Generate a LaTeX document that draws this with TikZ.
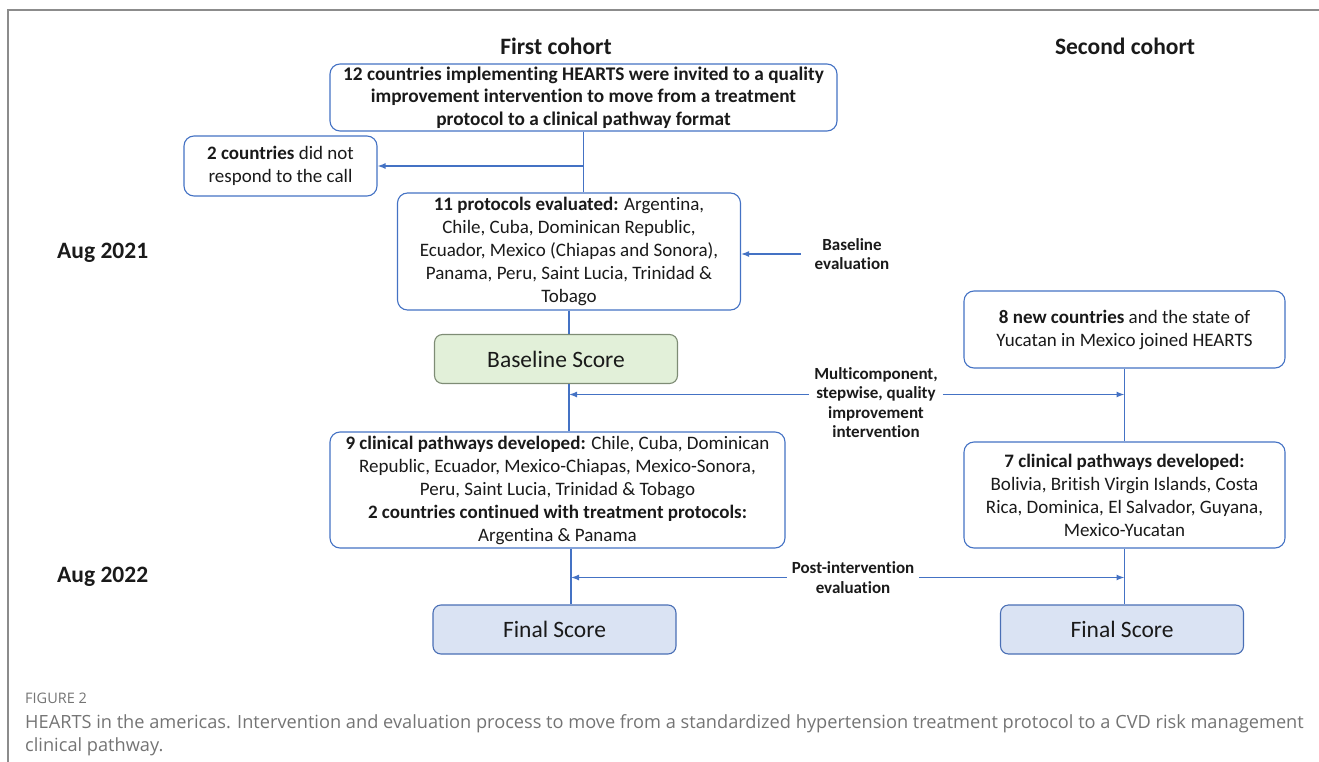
\documentclass[tikz,border=0pt]{standalone}
\usepackage{fontspec}
\setmainfont{Carlito}[Ligatures=NoCommon]
\newfontfamily\captionfont{Open Sans}
\usetikzlibrary{positioning, arrows.meta}
\definecolor{hbblue}{HTML}{4472C4}
\definecolor{hbframe}{HTML}{8C8C8C}
\definecolor{basefill}{HTML}{E2F0D9}
\definecolor{basedraw}{HTML}{7E8C75}
\definecolor{finalfill}{HTML}{DAE3F3}
\definecolor{finaldraw}{HTML}{4A6FB5}
\definecolor{captext}{HTML}{747474}
\definecolor{hbtext}{HTML}{1A1A1A}
\tikzset{
  hbbox/.style   = {draw=hbblue, line width=1.1pt, rounded corners=10pt,
                    align=center, inner sep=2pt, fill=white, text=hbtext,
                    font=\fontsize{19}{23}\selectfont},
  hbscore/.style = {hbbox, font=\fontsize{23.5}{28}\selectfont,
                    minimum width=243pt, minimum height=49pt, rounded corners=8pt},
  hbline/.style  = {draw=hbblue, line width=1.4pt},
  hbarrow/.style = {hbline, -{Latex[length=8pt,width=6pt]}},
  hblbl/.style   = {font=\bfseries\fontsize{17}{19.5}\selectfont, align=center,
                    inner xsep=5pt, inner ysep=1pt, text=hbtext},
  hbhead/.style  = {font=\bfseries\fontsize{23.5}{28}\selectfont, text=hbtext,
                    inner sep=0pt}
}

\begin{document}
\begin{tikzpicture}[x=1pt, y=-1pt]
  \useasboundingbox (0,0) rectangle (1319,762);
  \draw[hbframe, line width=1.2pt] (8,762) -- (8,10) -- (1319,10);

  \node[hbhead] (headone) at (556,46)  {First cohort};
  \node[hbhead] (headtwo) at (1125,46) {Second cohort};
  \node[hbhead, anchor=west] (augone) at (57,253) {Aug 2021};
  \node[hbhead, anchor=west] (augtwo) at (57,577) {Aug 2022};

  \node[hbbox, minimum width=507pt, minimum height=67pt,
        font=\bfseries\fontsize{19.3}{22.5}\selectfont] (invite) at (583.5,97.5)
        {12 countries implementing HEARTS were invited to a quality\\
         improvement intervention to move from a treatment\\
         protocol to a clinical pathway format};
  \node[hbbox, minimum width=193pt, minimum height=60pt] (noresp) at (280.5,166)
        {\textbf{2 countries} did not\\respond to the call};
  \node[hbbox, minimum width=343pt, minimum height=117pt] (evalbox) at (569,251.5)
        {\textbf{11 protocols evaluated:} Argentina,\\
         Chile, Cuba, Dominican Republic,\\
         Ecuador, Mexico (Chiapas and Sonora),\\
         Panama, Peru, Saint Lucia, Trinidad \&\\
         Tobago};
  \node[hbscore, draw=basedraw, fill=basefill] (basebox) at (556,359) {Baseline Score};
  \node[hbbox, minimum width=455pt, minimum height=116pt] (devone) at (557.5,490)
        {\textbf{9 clinical pathways developed:} Chile, Cuba, Dominican\\
         Republic, Ecuador, Mexico-Chiapas, Mexico-Sonora,\\
         Peru, Saint Lucia, Trinidad \& Tobago\\
         \textbf{2 countries continued with treatment protocols:}\\
         Argentina \& Panama};
  \node[hbscore, draw=finaldraw, fill=finalfill] (finone) at (554.5,629.5) {Final Score};

  \node[hbbox, minimum width=321pt, minimum height=77pt] (newbox) at (1124.5,329.5)
        {\textbf{8 new countries} and the state of\\Yucatan in Mexico joined HEARTS};
  \node[hbbox, minimum width=321pt, minimum height=106pt] (devtwo) at (1124.5,495)
        {\textbf{7 clinical pathways developed:}\\
         Bolivia, British Virgin Islands, Costa\\
         Rica, Dominica, El Salvador, Guyana,\\
         Mexico-Yucatan};
  \node[hbscore, draw=finaldraw, fill=finalfill] (fintwo) at (1122,629.5) {Final Score};

  \node[hblbl] (baseeval) at (852,254) {Baseline\\evaluation};
  \node[hblbl] (multi) at (876,402.5) {Multicomponent,\\stepwise, quality\\improvement\\intervention};
  \node[hblbl] (post) at (853,577.5) {Post-intervention\\evaluation};

  \coordinate (spine) at ([xshift=13.5pt]devone.south);

  \draw[hbline]  (invite.south) -- (invite.south |- evalbox.north);
  \draw[hbarrow] (invite.south |- noresp.east) -- (noresp.east);
  \draw[hbarrow] ([xshift=-9pt]baseeval.west) -- (evalbox.east |- baseeval.west);
  \draw[hbline]  (evalbox.south) -- (evalbox.south |- basebox.north);
  \draw[hbline]  (evalbox.south |- basebox.south) -- (evalbox.south |- devone.north);
  \draw[hbarrow] ([yshift=8pt]multi.west) -- ([yshift=8pt]multi.west -| evalbox.south);
  \draw[hbarrow] ([yshift=8pt]multi.east) -- ([yshift=8pt]multi.east -| newbox.south);
  \draw[hbline]  (newbox.south) -- (newbox.south |- devtwo.north);
  \draw[hbline]  (spine) -- (spine |- finone.north);
  \draw[hbarrow] (post.west) -- (post.west -| spine);
  \draw[hbarrow] (post.east) -- (post.east -| devtwo.south);
  \draw[hbline]  (devtwo.south) -- (devtwo.south |- fintwo.north);

  \node[anchor=base west, inner sep=0pt, text=captext,
        font=\captionfont\fontsize{14.5}{17}\selectfont] (figno) at (25,703) {FIGURE 2};
  \node[anchor=base west, inner sep=0pt, text=captext, align=left,
        font=\captionfont\fontsize{18.2}{23}\selectfont] (captxt) at (25,751)
        {HEARTS in the americas. Intervention and evaluation process to move from a standardized hypertension treatment protocol to a CVD risk management\\
         clinical pathway.};
\end{tikzpicture}
\end{document}
